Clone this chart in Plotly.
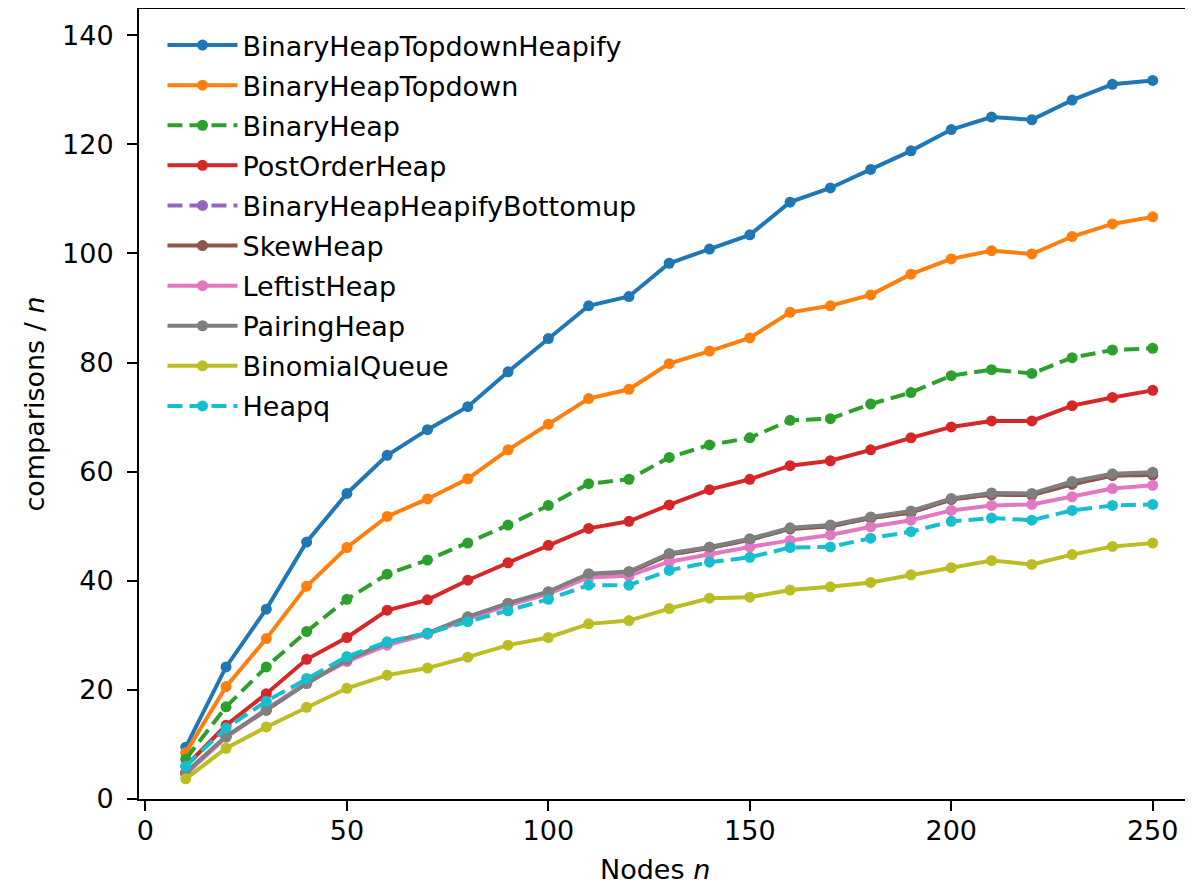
import plotly.graph_objects as go

nodes = [10, 20, 30, 40, 50, 60, 70, 80, 90, 100, 110, 120, 130,
         140, 150, 160, 170, 180, 190, 200, 210, 220, 230, 240, 250]

binary_heap_topdown_heapify = [9.5, 24.2, 34.8, 47.1, 56.0, 63.0, 67.7, 71.9, 78.3, 84.4, 90.4, 92.1, 98.2,
                               100.8, 103.4, 109.4, 112.0, 115.4, 118.8, 122.7, 125.0, 124.5, 128.1, 131.0, 131.7]
binary_heap_topdown = [8.5, 20.6, 29.4, 39.0, 46.1, 51.8, 55.0, 58.7, 64.0, 68.7, 73.4, 75.1, 79.8,
                       82.1, 84.5, 89.2, 90.4, 92.4, 96.2, 99.0, 100.5, 99.9, 103.1, 105.4, 106.7]
binary_heap = [7.3, 16.9, 24.2, 30.7, 36.6, 41.2, 43.8, 46.9, 50.2, 53.8, 57.8, 58.6, 62.6,
               64.9, 66.2, 69.4, 69.7, 72.4, 74.5, 77.6, 78.7, 78.0, 80.9, 82.3, 82.6]
post_order_heap = [6.0, 13.5, 19.3, 25.6, 29.6, 34.6, 36.5, 40.1, 43.3, 46.5, 49.6, 50.9, 53.9,
                   56.7, 58.6, 61.1, 62.0, 64.0, 66.2, 68.2, 69.3, 69.3, 72.1, 73.6, 74.9]
binary_heap_heapify_bottomup = [4.8, 11.4, 16.3, 21.2, 25.4, 28.6, 30.3, 33.3, 35.8, 37.9, 41.1, 41.5, 44.8,
                                46.0, 47.5, 49.5, 50.0, 51.5, 52.5, 54.9, 55.8, 55.7, 57.7, 59.3, 59.4]
skew_heap = [4.8, 11.4, 16.3, 21.2, 25.4, 28.6, 30.3, 33.3, 35.8, 37.9, 41.1, 41.5, 44.8,
             46.0, 47.5, 49.5, 50.0, 51.5, 52.5, 54.9, 55.8, 55.7, 57.7, 59.3, 59.4]
leftist_heap = [4.5, 11.3, 16.5, 21.3, 25.2, 28.2, 30.2, 33.0, 35.5, 37.6, 40.6, 40.9, 43.5,
                44.9, 46.2, 47.4, 48.4, 49.9, 51.1, 52.9, 53.8, 54.0, 55.4, 56.9, 57.5]
pairing_heap = [4.8, 11.5, 16.3, 21.2, 25.5, 28.7, 30.4, 33.4, 35.9, 38.0, 41.3, 41.7, 45.0,
                46.2, 47.7, 49.7, 50.2, 51.7, 52.8, 55.1, 56.1, 56.0, 58.2, 59.6, 59.9]
binomial_queue = [3.7, 9.3, 13.2, 16.8, 20.3, 22.7, 24.0, 26.0, 28.2, 29.6, 32.1, 32.7, 34.9,
                  36.8, 37.0, 38.3, 38.9, 39.7, 41.1, 42.4, 43.7, 43.0, 44.8, 46.3, 46.9]
heapq = [6.0, 13.0, 17.9, 22.1, 26.1, 28.8, 30.4, 32.5, 34.5, 36.6, 39.2, 39.2, 41.9,
         43.4, 44.3, 46.1, 46.2, 47.8, 49.0, 50.9, 51.5, 51.1, 52.9, 53.8, 54.0]

series = [
    ("BinaryHeapTopdownHeapify", binary_heap_topdown_heapify, "#1f77b4", "solid"),
    ("BinaryHeapTopdown", binary_heap_topdown, "#ff7f0e", "solid"),
    ("BinaryHeap", binary_heap, "#2ca02c", "15px,7px"),
    ("PostOrderHeap", post_order_heap, "#d62728", "solid"),
    ("BinaryHeapHeapifyBottomup", binary_heap_heapify_bottomup, "#9467bd", "15px,7px"),
    ("SkewHeap", skew_heap, "#8c564b", "solid"),
    ("LeftistHeap", leftist_heap, "#e377c2", "solid"),
    ("PairingHeap", pairing_heap, "#7f7f7f", "solid"),
    ("BinomialQueue", binomial_queue, "#bcbd22", "solid"),
    ("Heapq", heapq, "#17becf", "15px,7px"),
]

FONT = "DejaVu Sans"
# the page body adds an 8px margin, so the figure is 8px smaller and all positions are shifted by -8
W, H = 1185, 876
L, R, T, B = 130.5, 0, 1, 84.7

fig = go.Figure()
for i, (name, vals, color, dash) in enumerate(series):
    fig.add_trace(go.Scatter(
        x=nodes, y=vals, name=name, mode="lines+markers",
        line=dict(color=color, width=4, dash=dash),
        marker=dict(color=color, size=11),
        legendgroup=f"g{i}",
    ))

pw = W - L - R
ph = H - T - B
fig.update_layout(
    width=W, height=H,
    margin=dict(l=L, r=R, t=T, b=B, pad=0),
    paper_bgcolor="white", plot_bgcolor="white",
    font=dict(family=FONT, size=27, color="black"),
    showlegend=True,
    legend=dict(
        x=(154 - L) / pw, y=1 - (13 - T) / ph, xanchor="left", yanchor="top",
        bgcolor="rgba(255,255,255,0)", borderwidth=0,
        font=dict(family=FONT, size=27, color="black"),
        itemwidth=70, tracegroupgap=2,
    ),
    xaxis=dict(
        range=[-1.6, 260.0], showgrid=False, zeroline=False,
        showline=True, linecolor="black", linewidth=2, mirror=True,
        ticks="outside", ticklen=10, tickwidth=2, tickcolor="black",
        tickvals=[0, 50, 100, 150, 200, 250], ticklabelstandoff=-3,
        tickfont=dict(family=FONT, size=27, color="black"),
    ),
    yaxis=dict(
        range=[0, 144.8], showgrid=False, zeroline=False,
        showline=True, linecolor="black", linewidth=2, mirror=False,
        ticks="outside", ticklen=10, tickwidth=2, tickcolor="black",
        tickvals=[0, 20, 40, 60, 80, 100, 120, 140], ticklabelstandoff=8,
        tickfont=dict(family=FONT, size=27, color="black"),
    ),
    annotations=[
        dict(text="Nodes <i>n</i>", xref="paper", yref="paper",
             x=(647 - L) / pw, y=-(862 - (H - B)) / ph,
             xanchor="center", yanchor="middle", showarrow=False,
             font=dict(family=FONT, size=27, color="black")),
        dict(text="comparisons / <i>n</i>", xref="paper", yref="paper",
             x=-(L - 25) / pw, y=0.5, textangle=-90,
             xanchor="center", yanchor="middle", showarrow=False,
             font=dict(family=FONT, size=27, color="black")),
    ],
)

fig.write_html("out.html")
